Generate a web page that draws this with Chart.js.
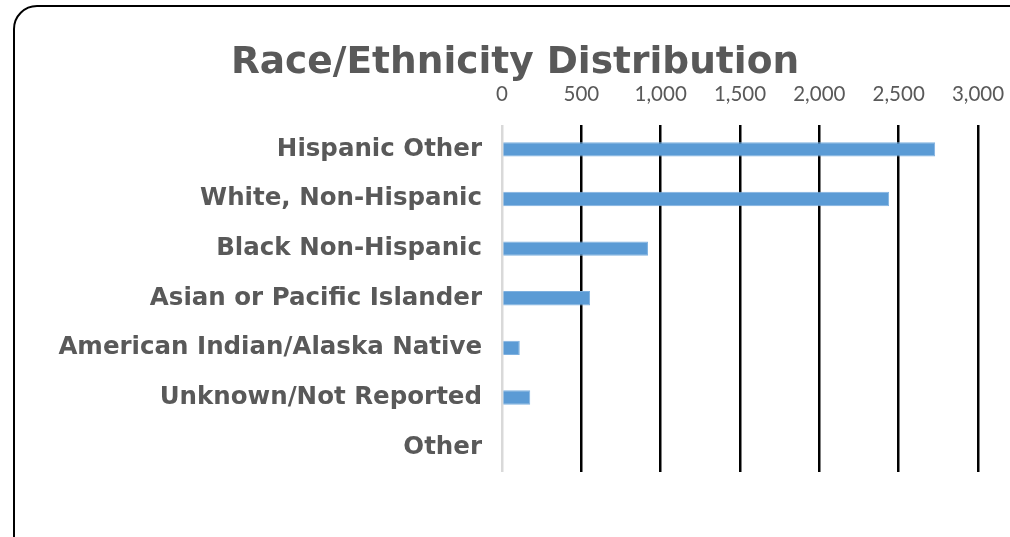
<!DOCTYPE html>
<html>
<head>
<meta charset="utf-8">
<script src="https://cdn.jsdelivr.net/npm/chart.js@4/dist/chart.umd.min.js"></script>
<style>
    body { margin: 0; overflow: hidden; background: #fff; }
    #wrapper { position: relative; width: 1010px; height: 537px; }
    #cornice {
        position: absolute; left: 13px; top: 5px; width: 1020px; height: 560px;
        border: 2.5px solid #000; border-radius: 24px; box-sizing: border-box;
    }
    canvas { position: absolute; left: 0; top: 0; }
</style>
</head>
<body>
<div id="wrapper">
    <div id="cornice"></div>
    <canvas id="grafico" width="1010" height="537"></canvas>
</div>
<script>
"use strict";
// dati
const titolo = "Race/Ethnicity Distribution";
const categorie = ["Hispanic Other", "White, Non-Hispanic", "Black Non-Hispanic",
    "Asian or Pacific Islander", "American Indian/Alaska Native", "Unknown/Not Reported", "Other"];
const valori = [2730, 2440, 920, 555, 112, 178, 0];
const tickValori = [0, 500, 1000, 1500, 2000, 2500, 3000];

// il titolo e' centrato sul riquadro e non sull'area del grafico
const pluginTitolo = {
    id: "titolo",
    afterDraw: function(chart) {
        let ctx = chart.ctx;
        ctx.save();
        ctx.fillStyle = "#595959";
        ctx.font = "bold 37.5px 'DejaVu Sans'";
        ctx.textAlign = "center";
        ctx.textBaseline = "alphabetic";
        ctx.fillText(titolo, 515, 73);
        ctx.restore();
    }
};

window.onload = function() {
    let _canvas = document.getElementById("grafico");
    let chart = new Chart(_canvas, {
        type: "bar",
        data: {
            labels: categorie,
            datasets: [{
                label: titolo,
                data: valori,
                backgroundColor: "#5B9BD5",
                borderColor: "#7FB1E0",
                borderWidth: 1,
                barPercentage: 0.29,
                categoryPercentage: 1
            }]
        },
        plugins: [pluginTitolo],
        options: {
            indexAxis: "y",
            responsive: false,
            animation: false,
            layout: { padding: { left: 20, right: 32, top: 64, bottom: 65 } },
            plugins: {
                legend: { display: false },
                tooltip: { enabled: false },
                title: { display: false }
            },
            scales: {
                x: {
                    position: "top",
                    min: 0,
                    max: 3000,
                    afterBuildTicks: function(scale) {
                        scale.ticks = tickValori.map(v => ({ value: v }));
                    },
                    afterFit: function(scale) {
                        // niente spazio extra per l'ultima etichetta
                        scale.paddingLeft = 0;
                        scale.paddingRight = 0;
                    },
                    ticks: {
                        color: "#595959",
                        font: { family: "Lato", size: 20.5 },
                        padding: 18,
                        maxRotation: 0,
                        callback: v => v.toLocaleString("en-US")
                    },
                    grid: {
                        drawTicks: false,
                        color: c => (c.tick && c.tick.value === 0) ? "#d9d9d9" : "#000",
                        lineWidth: 2.5
                    },
                    border: { display: false }
                },
                y: {
                    afterFit: function(scale) { scale.width = 482; },
                    ticks: {
                        color: "#595959",
                        font: { family: "DejaVu Sans", size: 24.5, weight: "bold" },
                        padding: 20
                    },
                    grid: { display: false, drawTicks: false },
                    border: { display: false }
                }
            }
        }
    });
};
</script>
</body>
</html>
